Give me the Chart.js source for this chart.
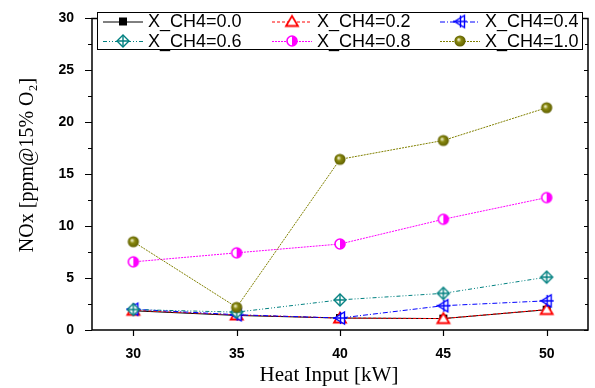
<!DOCTYPE html>
<html><head><meta charset="utf-8">
<script src="https://cdn.jsdelivr.net/npm/chart.js@4/dist/chart.umd.min.js"></script>
<style>html,body{margin:0;padding:0;background:#fff}#wrap{width:595px;height:388px}</style>
</head><body><div id="wrap"><canvas id="c" width="595" height="388"></canvas></div>
<script>
// ---- data ----
const heatInput = [30, 35, 40, 45, 50];
const seriesLabels = ['X_CH4=0.0', 'X_CH4=0.2', 'X_CH4=0.4', 'X_CH4=0.6', 'X_CH4=0.8', 'X_CH4=1.0'];
const nox00 = [1.85, 1.40, 1.15, 1.10, 1.95];
const nox02 = [1.90, 1.45, 1.15, 1.10, 1.97];
const nox04 = [2.00, 1.47, 1.15, 2.34, 2.81];
const nox06 = [1.97, 1.72, 2.90, 3.53, 5.09];
const nox08 = [6.56, 7.43, 8.28, 10.66, 12.75];
const nox10 = [8.50, 2.18, 16.43, 18.25, 21.40];
const xTicks = [30, 35, 40, 45, 50];
const yTicks = [0, 5, 10, 15, 20, 25, 30];
const xTitle = 'Heat Input [kW]';
const yTitle = 'NOx [ppm@15% O\u2082]';

// ---- markers ----
function marker(kind, color) {
  const s = 18, c = document.createElement('canvas');
  c.width = s; c.height = s;
  const g = c.getContext('2d'), m = s / 2;
  g.strokeStyle = color; g.fillStyle = color; g.lineWidth = 1.4;
  if (kind === 'square') {
    g.fillRect(m - 4, m - 4, 8, 8);
  } else if (kind === 'triangle') {
    g.beginPath(); g.moveTo(m, m - 5.5); g.lineTo(m + 6, m + 4.5); g.lineTo(m - 6, m + 4.5); g.closePath();
    g.fillStyle = '#fff'; g.fill(); g.lineWidth = 1.8; g.stroke();
  } else if (kind === 'ltri') {
    g.beginPath(); g.moveTo(m - 5.5, m); g.lineTo(m + 4.5, m - 6); g.lineTo(m + 4.5, m + 6); g.closePath();
    g.fillStyle = '#fff'; g.fill(); g.stroke();
    g.beginPath(); g.moveTo(m - 7, m); g.lineTo(m + 7, m); g.moveTo(m + 0.5, m - 6); g.lineTo(m + 0.5, m + 6); g.stroke();
  } else if (kind === 'diamond') {
    g.beginPath(); g.moveTo(m, m - 6); g.lineTo(m + 6, m); g.lineTo(m, m + 6); g.lineTo(m - 6, m); g.closePath();
    g.fillStyle = '#fff'; g.fill(); g.stroke();
    g.beginPath(); g.moveTo(m - 6, m); g.lineTo(m + 6, m); g.moveTo(m, m - 6); g.lineTo(m, m + 6); g.stroke();
  } else if (kind === 'half') {
    g.beginPath(); g.arc(m, m, 5, 0, Math.PI * 2); g.fillStyle = '#fff'; g.fill();
    g.beginPath(); g.arc(m, m, 5, -Math.PI / 2, Math.PI / 2); g.closePath(); g.fillStyle = color; g.fill();
    g.beginPath(); g.arc(m, m, 5, 0, Math.PI * 2); g.lineWidth = 1.6; g.stroke();
  } else if (kind === 'sphere') {
    const gr = g.createRadialGradient(m - 1.5, m - 1.5, 0.5, m, m, 5.8);
    gr.addColorStop(0, '#eeeec8'); gr.addColorStop(0.35, '#8a8a10'); gr.addColorStop(1, '#5c5c00');
    g.beginPath(); g.arc(m, m, 5.6, 0, Math.PI * 2); g.fillStyle = gr; g.fill();
  }
  return c;
}

const styles = [
  {color: '#000000', dash: [], mk: marker('square', '#000000')},
  {color: '#ff0000', dash: [3, 2], mk: marker('triangle', '#ff0000')},
  {color: '#0000ff', dash: [5, 2, 1, 2], mk: marker('ltri', '#0000ff')},
  {color: '#008080', dash: [4, 2, 1, 2, 1, 2], mk: marker('diamond', '#008080')},
  {color: '#ff00ff', dash: [2, 1], mk: marker('half', '#ff00ff')},
  {color: '#808000', dash: [2, 1], mk: marker('sphere', '#808000')}
];
const seriesData = [nox00, nox02, nox04, nox06, nox08, nox10];

const datasets = seriesData.map((vals, i) => ({
  label: seriesLabels[i],
  data: vals.map((v, j) => ({x: heatInput[j], y: v})),
  borderColor: styles[i].color,
  backgroundColor: styles[i].color,
  borderWidth: 1,
  borderDash: styles[i].dash,
  pointStyle: styles[i].mk,
  pointRadius: 5,
  order: -i,
  tension: 0
}));

const framePlugin = {
  id: 'frame',
  afterDraw(chart) {
    const {ctx, chartArea: a, scales} = chart;
    const ys = scales.y, xs = scales.x;
    ctx.save();
    ctx.strokeStyle = '#000'; ctx.lineWidth = 1.5; ctx.setLineDash([]);
    ctx.beginPath(); ctx.rect(a.left, a.top, a.right - a.left, a.bottom - a.top); ctx.stroke();
    ctx.lineWidth = 1.2;
    ctx.beginPath();
    for (let v = 0; v <= 30; v += 2.5) {
      const y = Math.round(ys.getPixelForValue(v)) + 0.5;
      const major = v % 5 === 0;
      ctx.moveTo(a.left - (major ? 7 : 4), y); ctx.lineTo(a.left, y);
      ctx.moveTo(a.right, y); ctx.lineTo(a.right - (major ? 4 : 3), y);
    }
    xTicks.forEach(v => {
      const x = Math.round(xs.getPixelForValue(v)) + 0.5;
      ctx.moveTo(x, a.bottom); ctx.lineTo(x, a.bottom + 6);
    });
    ctx.stroke();

    // axis titles
    ctx.fillStyle = '#000';
    ctx.font = '21px "Liberation Serif", "Times New Roman", serif';
    ctx.textAlign = 'center'; ctx.textBaseline = 'middle';
    ctx.fillText(xTitle, 329, 375);
    ctx.save();
    ctx.translate(28, 165); ctx.rotate(-Math.PI / 2);
    ctx.font = '20px "Liberation Serif", "Times New Roman", serif';
    ctx.fillText(yTitle, 0, 0);
    ctx.restore();

    // legend
    const lx = 97, ly = 12, lw = 485, lh = 37;
    ctx.fillStyle = '#fff'; ctx.fillRect(lx, ly, lw, lh);
    ctx.lineWidth = 1; ctx.strokeStyle = '#000';
    ctx.strokeRect(lx + 0.5, ly + 0.5, lw, lh);
    ctx.font = '18px "Liberation Sans", Arial, sans-serif';
    ctx.textBaseline = 'middle'; ctx.textAlign = 'left';
    const cols = [103, 272, 440], rows = [21.5, 41];
    chart.data.datasets.forEach((ds, i) => {
      const x0 = cols[i % 3], y0 = rows[Math.floor(i / 3)];
      ctx.strokeStyle = ds.borderColor; ctx.lineWidth = 1;
      ctx.setLineDash(ds.borderDash);
      ctx.beginPath(); ctx.moveTo(x0, y0 + 0.5); ctx.lineTo(x0 + 40, y0 + 0.5); ctx.stroke();
      ctx.setLineDash([]);
      const mk = ds.pointStyle;
      ctx.drawImage(mk, x0 + 20 - mk.width / 2, y0 - mk.height / 2);
      ctx.fillStyle = '#000';
      ctx.fillText(ds.label, x0 + 45, y0 + 1);
    });
    ctx.restore();
  }
};

new Chart(document.getElementById('c'), {
  type: 'line',
  data: {datasets},
  options: {
    responsive: false,
    devicePixelRatio: 1,
    animation: false,
    layout: {padding: {left: 0, right: 7, top: 10, bottom: 0}},
    plugins: {legend: {display: false}, tooltip: {enabled: false}},
    scales: {
      x: {
        type: 'linear', min: 28, max: 52,
        afterBuildTicks: s => { s.ticks = xTicks.map(v => ({value: v})); },
        afterFit: s => { s.height = 58; },
        grid: {display: false}, border: {display: false},
        ticks: {color: '#000', padding: 8, maxRotation: 0, font: {family: '"Liberation Sans", Arial, sans-serif', size: 14, weight: 'bold'}},
        title: {display: false, text: xTitle}
      },
      y: {
        type: 'linear', min: 0, max: 30,
        afterBuildTicks: s => { s.ticks = yTicks.map(v => ({value: v})); },
        afterFit: s => { s.width = 92; },
        grid: {display: false}, border: {display: false},
        ticks: {color: '#000', padding: 10, font: {family: '"Liberation Sans", Arial, sans-serif', size: 14, weight: 'bold'}},
        title: {display: false, text: yTitle}
      }
    }
  },
  plugins: [framePlugin]
});
</script>
</body></html>
